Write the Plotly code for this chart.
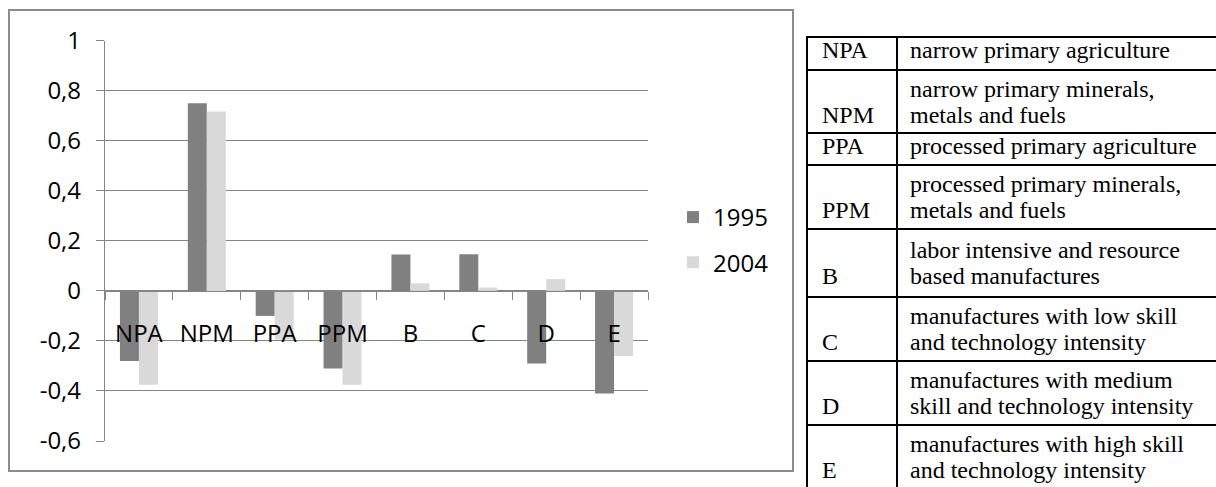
import plotly.graph_objects as go

# Export-structure index by product group
categories = ["NPA", "NPM", "PPA", "PPM", "B", "C", "D", "E"]
series_names = ["1995", "2004"]
values_1995 = [-0.28, 0.75, -0.10, -0.31, 0.145, 0.146, -0.29, -0.41]
values_2004 = [-0.375, 0.717, -0.195, -0.375, 0.03, 0.013, 0.047, -0.26]
y_ticks = [-0.6, -0.4, -0.2, 0, 0.2, 0.4, 0.6, 0.8, 1]

# Key to the product-group codes
table_codes = categories
table_descriptions = [
    ["narrow primary agriculture"],
    ["narrow primary minerals,", "metals and fuels"],
    ["processed primary agriculture"],
    ["processed primary minerals,", "metals and fuels"],
    ["labor intensive and resource", "based manufactures"],
    ["manufactures with low skill", "and technology intensity"],
    ["manufactures with medium", "skill and technology intensity"],
    ["manufactures with high skill", "and technology intensity"],
]

W, H = 1216, 487


def px(x):
    return x / W


def py(y):
    return 1 - y / H


def tick_text(v):
    if abs(v - round(v)) < 1e-9:
        return str(int(round(v)))
    return f"{v:.1f}".replace(".", ",")


GRID = "#858585"
COLORS = ["#808080", "#d9d9d9"]
FONT = "Open Sans"

fig = go.Figure()
for name, vals, col in zip(series_names, [values_1995, values_2004], COLORS):
    fig.add_trace(go.Bar(x=categories, y=vals, name=name, marker=dict(color=col, line=dict(width=0)),
                         legendgroup=name))

y_min, y_max = -0.6, 1.0
y_dom = [py(441), py(40.7)]
zero_pos = y_dom[0] + (0 - y_min) / (y_max - y_min) * (y_dom[1] - y_dom[0])

fig.update_layout(
    width=W, height=H,
    margin=dict(l=0, r=0, t=0, b=0, autoexpand=False),
    paper_bgcolor="white", plot_bgcolor="white",
    barmode="group", bargap=0.44, bargroupgap=0,
    font=dict(family=FONT, size=24, color="#000000"),
    showlegend=True,
    legend=dict(x=px(673), y=py(195), xanchor="left", yanchor="top",
                tracegroupgap=11, font=dict(size=24, family=FONT),
                bgcolor="rgba(0,0,0,0)"),
    xaxis=dict(domain=[px(105), px(648)], anchor="free", position=zero_pos,
               automargin=False,
               showgrid=False, showline=True, linecolor=GRID, linewidth=1.3,
               ticks="outside", ticklen=8, tickcolor=GRID, tickwidth=1.3,
               tickson="boundaries", ticklabelstandoff=21,
               tickfont=dict(size=24, family=FONT)),
    yaxis=dict(domain=y_dom, range=[y_min, y_max], automargin=False,
               tickvals=y_ticks, ticktext=[tick_text(v) for v in y_ticks],
               showgrid=True, gridcolor=GRID, gridwidth=1.3,
               zeroline=False, showline=True, linecolor=GRID, linewidth=1.3,
               ticks="outside", ticklen=8, tickcolor=GRID, tickwidth=1.3,
               ticklabelstandoff=10, tickfont=dict(size=24, family=FONT)),
)

# chart frame
fig.add_shape(type="rect", xref="paper", yref="paper",
              x0=px(9), x1=px(793), y0=py(471), y1=py(10),
              line=dict(color="#8c8c8c", width=2), fillcolor="rgba(0,0,0,0)")

# key table
row_edges = [37, 70, 133, 165, 229, 297, 361, 425, 488]
tbl_left, tbl_div, tbl_right = 807, 897, 1216
LINE = dict(color="#000000", width=2)
for yv in row_edges[:-1]:
    fig.add_shape(type="line", xref="paper", yref="paper",
                  x0=px(tbl_left - 1), x1=px(tbl_right + 2), y0=py(yv), y1=py(yv), line=LINE)
for xv in (tbl_left, tbl_div):
    fig.add_shape(type="line", xref="paper", yref="paper",
                  x0=px(xv), x1=px(xv), y0=py(row_edges[0]), y1=py(H + 2), line=LINE)

TFONT = dict(family="Liberation Serif", size=24, color="#000000")
line_gap = 26
for code, desc, top, bot in zip(table_codes, table_descriptions, row_edges[:-1], row_edges[1:]):
    mid = (top + bot) / 2
    n = len(desc)
    first = mid - (n - 1) * line_gap / 2
    if n == 1:
        first -= 3
    for i, txt in enumerate(desc):
        fig.add_annotation(xref="paper", yref="paper", x=px(908), y=py(first + i * line_gap),
                           text=txt, showarrow=False, xanchor="left", yanchor="middle",
                           font=TFONT)
    fig.add_annotation(xref="paper", yref="paper", x=px(820), y=py(first + (n - 1) * line_gap),
                       text=code, showarrow=False, xanchor="left", yanchor="middle", font=TFONT)

fig.write_html("out.html")
